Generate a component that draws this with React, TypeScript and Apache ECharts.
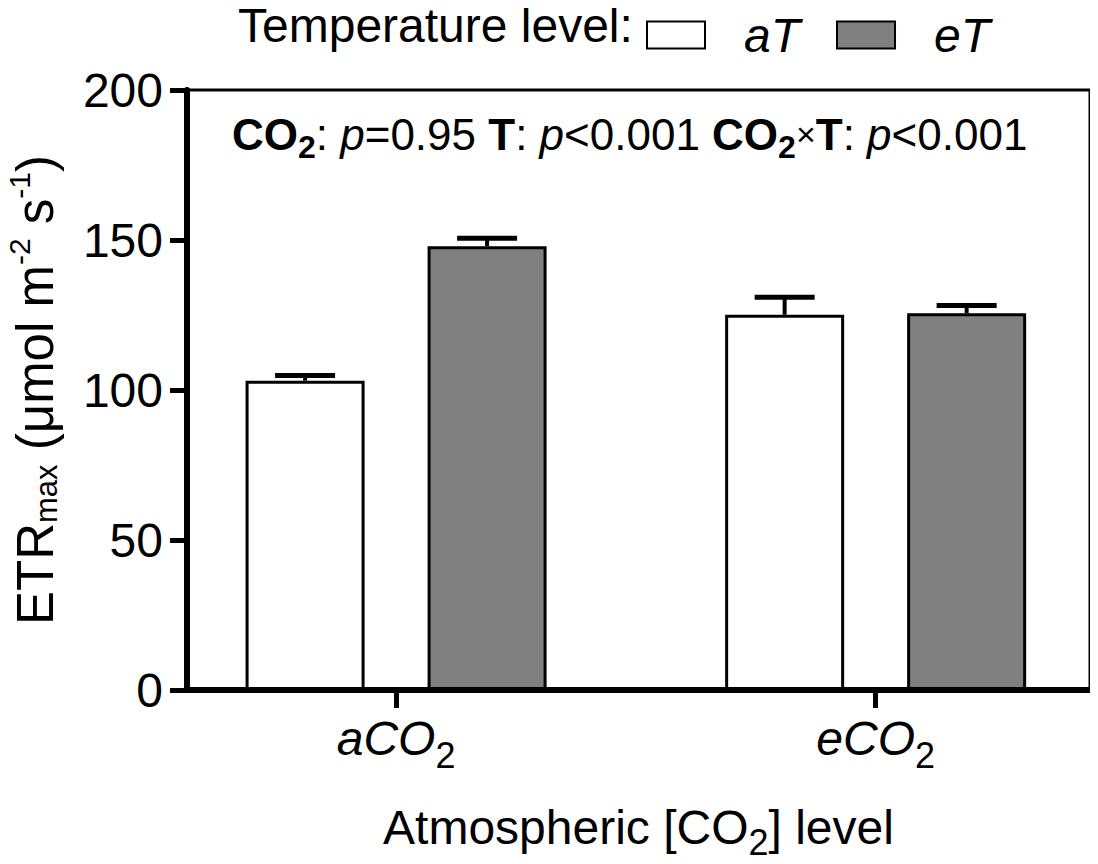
import React, { useEffect, useRef } from "react";
import * as echarts from "echarts";

const categories = ["aCO2", "eCO2"];
const categoryPositions = [0, 1];
const seriesNames = ["aT", "eT"];
const aTMeans = [103.1, 125.1];
const eTMeans = [147.9, 125.6];
const aTErrors = [1.7, 5.8];
const eTErrors = [2.7, 2.6];
const yTicks = [0, 50, 100, 150, 200];

const FONT = "'Liberation Sans', Arial, Helvetica, sans-serif";
const BAR_WIDTH = 119;
const BAR_GAP = 63;
const OFFSET = (BAR_WIDTH + BAR_GAP) / 2;

function errorSeries(name: string, means: number[], errs: number[], offset: number) {
  return {
    type: "custom",
    name: name + " SEM",
    z: 5,
    data: categoryPositions.map((p, i) => [p, means[i], errs[i]]),
    encode: { x: 0, y: 1 },
    renderItem: (_params: any, api: any) => {
      const x = api.value(0);
      const m = api.value(1);
      const e = api.value(2);
      const base = api.coord([x, m]);
      const top = api.coord([x, m + e]);
      const cx = base[0] + offset;
      return {
        type: "group",
        children: [
          { type: "line", shape: { x1: cx, y1: base[1], x2: cx, y2: top[1] }, style: { stroke: "#000", lineWidth: 4 } },
          { type: "line", shape: { x1: cx - 30, y1: top[1], x2: cx + 30, y2: top[1] }, style: { stroke: "#000", lineWidth: 5 } },
        ],
      };
    },
  };
}

export default function App() {
  const ref = useRef<HTMLDivElement>(null);
  useEffect(() => {
    if (!ref.current) return;
    const chart = echarts.init(ref.current, undefined, { renderer: "svg" });
    const labelFor = (v: number) => {
      const idx = categoryPositions.indexOf(v);
      if (idx < 0) return "";
      const c = categories[idx];
      return "{i|" + c.slice(0, 3) + "}{s|" + c.slice(3) + "}";
    };
    chart.setOption({
      animation: false,
      backgroundColor: "#fff",
      textStyle: { fontFamily: FONT, color: "#000" },
      grid: {
        left: 187,
        right: 8,
        top: 90,
        bottom: 174,
        show: true,
        borderColor: "#000",
        borderWidth: 3,
        backgroundColor: "transparent",
        containLabel: false,
        outerBoundsMode: "none",
      },
      legend: {
        data: seriesNames,
        icon: "rect",
        left: 641,
        top: 6,
        itemWidth: 58,
        itemHeight: 27,
        itemGap: 36,
        selectedMode: false,
        textStyle: {
          fontFamily: FONT,
          fontSize: 48,
          lineHeight: 36,
          fontStyle: "italic",
          color: "#000",
          padding: [0, 0, 0, 34],
        },
      },
      graphic: [
        {
          type: "text",
          x: 238,
          y: 25,
          style: {
            text: "Temperature level:",
            font: "48px " + FONT,
            lineHeight: 40,
            fill: "#000",
            verticalAlign: "middle",
          },
        },
        {
          type: "text",
          x: 232,
          y: 134,
          style: {
            text:
              "{b|CO}{bs|2}{n|: }{i|p}{n|=0.95 }{b|T}{n|: }{i|p}{n|<0.001 }{b|CO}{bs|2}{x|×}{b|T}{n|: }{i|p}{n|<0.001}",
            verticalAlign: "middle",
            fill: "#000",
            rich: {
              b: { fontFamily: FONT, fontSize: 44, fontWeight: "bold", color: "#000" },
              bs: { fontFamily: FONT, fontSize: 32, fontWeight: "bold", color: "#000", padding: [26, 0, 0, 0] },
              n: { fontFamily: FONT, fontSize: 44, color: "#000" },
              i: { fontFamily: FONT, fontSize: 44, fontStyle: "italic", color: "#000" },
              x: { fontFamily: FONT, fontSize: 34, color: "#000" },
            },
          },
        },
      ],
      xAxis: {
        type: "value",
        min: -0.436,
        max: 1.447,
        splitLine: { show: false },
        axisLine: { show: true, onZero: false, lineStyle: { color: "#000", width: 6 } },
        axisTick: { show: true, customValues: categoryPositions, length: 18, lineStyle: { color: "#000", width: 5 } },
        axisLabel: {
          customValues: categoryPositions,
          margin: 13,
          formatter: labelFor,
          rich: {
            i: { fontFamily: FONT, fontSize: 48, fontStyle: "italic", color: "#000" },
            s: { fontFamily: FONT, fontSize: 36, color: "#000", padding: [34, 0, 0, 0] },
          },
        },
        name: "{n|Atmospheric [CO}{s|2}{n|] level}",
        nameLocation: "middle",
        nameGap: 104,
        nameTextStyle: {
          rich: {
            n: { fontFamily: FONT, fontSize: 48, color: "#000" },
            s: { fontFamily: FONT, fontSize: 36, color: "#000", padding: [30, 0, 0, 0] },
          },
        },
      },
      yAxis: {
        type: "value",
        min: yTicks[0],
        max: yTicks[yTicks.length - 1],
        interval: yTicks[1] - yTicks[0],
        splitLine: { show: false },
        axisLine: { show: true, onZero: false, lineStyle: { color: "#000", width: 6 } },
        axisTick: { show: true, length: 17, lineStyle: { color: "#000", width: 5 } },
        axisLabel: { fontFamily: FONT, fontSize: 48, color: "#000", margin: 24 },
        name: "{n|ETR}{sub|max}{n| (μmol m}{sup|-2}{n| s}{sup|-1}{n|)}",
        nameLocation: "middle",
        nameGap: 121,
        nameTextStyle: {
          rich: {
            n: { fontFamily: FONT, fontSize: 51, color: "#000" },
            sub: { fontFamily: FONT, fontSize: 31, color: "#000", padding: [22, 0, 0, 0] },
            sup: { fontFamily: FONT, fontSize: 30, color: "#000", padding: [0, 0, 32, 0] },
          },
        },
      },
      series: [
        {
          type: "bar",
          name: seriesNames[0],
          data: categoryPositions.map((p, i) => [p, aTMeans[i]]),
          barWidth: BAR_WIDTH,
          barGap: (BAR_GAP / BAR_WIDTH) * 100 + "%",
          itemStyle: { color: "#ffffff", borderColor: "#000", borderWidth: 3 },
        },
        {
          type: "bar",
          name: seriesNames[1],
          data: categoryPositions.map((p, i) => [p, eTMeans[i]]),
          barWidth: BAR_WIDTH,
          barGap: (BAR_GAP / BAR_WIDTH) * 100 + "%",
          itemStyle: { color: "#808080", borderColor: "#000", borderWidth: 3 },
        },
        errorSeries(seriesNames[0], aTMeans, aTErrors, -OFFSET),
        errorSeries(seriesNames[1], eTMeans, eTErrors, OFFSET),
      ],
    });
    return () => chart.dispose();
  }, []);
  return <div ref={ref} style={{ width: 1098, height: 864, margin: -8 }} />;
}
